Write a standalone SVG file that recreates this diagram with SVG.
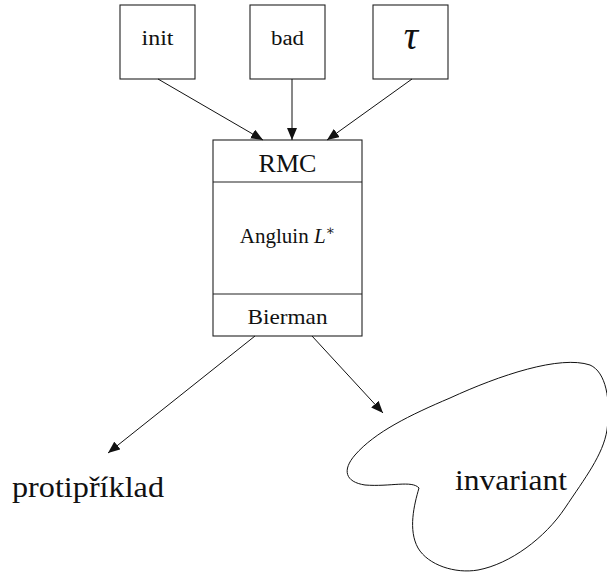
<svg xmlns="http://www.w3.org/2000/svg" width="607" height="572" viewBox="0 0 607 572">
  <style>
    .box { fill: #fff; stroke: #222; stroke-width: 1.1; }
    .div { stroke: #222; stroke-width: 1.1; }
    text { font-family: 'Liberation Serif', 'DejaVu Serif', serif; fill: #111; text-anchor: middle; }
    .edge { stroke: #111; stroke-width: 1; fill: none; marker-end: url(#arr); }
  </style>
  <defs>
    <marker id="arr" viewBox="0 0 12 10" refX="12" refY="5" markerWidth="12" markerHeight="10" markerUnits="userSpaceOnUse" orient="auto">
      <path d="M0,0 L12,5 L0,10 Z" fill="#111"/>
    </marker>
  </defs>

  <g id="init">
    <rect class="box" x="120" y="5" width="75" height="74"/>
    <text x="157.5" y="45" font-size="20" textLength="32" lengthAdjust="spacingAndGlyphs">init</text>
  </g>
  <g id="bad">
    <rect class="box" x="250" y="5" width="75" height="74"/>
    <text x="287.5" y="45" font-size="20" textLength="33" lengthAdjust="spacingAndGlyphs">bad</text>
  </g>
  <g id="tau">
    <rect class="box" x="373" y="5" width="75" height="74"/>
    <text x="411" y="49" font-size="40" font-style="italic">τ</text>
  </g>

  <g id="rmc">
    <rect class="box" x="213" y="140" width="149" height="196"/>
    <line class="div" x1="213" y1="182" x2="362" y2="182"/>
    <line class="div" x1="213" y1="294" x2="362" y2="294"/>
    <text x="287.5" y="172" font-size="25" textLength="58" lengthAdjust="spacingAndGlyphs">RMC</text>
    <text x="287.5" y="243" font-size="21">Angluin <tspan font-style="italic">L</tspan><tspan font-size="14" dy="-8">∗</tspan></text>
    <text x="287.5" y="324" font-size="21" textLength="80" lengthAdjust="spacingAndGlyphs">Bierman</text>
  </g>

  <g id="protipriklad">
    <text x="88" y="497" font-size="29" textLength="152" lengthAdjust="spacingAndGlyphs">protipříklad</text>
  </g>

  <g id="invariant">
    <path d="M 419,488 C 414,505 408,530 418,548 C 428,565 455,574 478,570 C 510,564 545,538 565,508 C 585,478 603,455 607,430 C 611,400 606,372 590,365 C 560,355 500,375 450,398 C 410,415 375,432 355,455 C 342,470 345,482 365,485 C 390,487 412,480 419,488 Z" fill="none" stroke="#111" stroke-width="1"/>
    <text x="511" y="490" font-size="29" textLength="112" lengthAdjust="spacingAndGlyphs">invariant</text>
  </g>

  <g id="connectors">
    <line class="edge" x1="158" y1="79" x2="263" y2="140"/>
    <line class="edge" x1="292" y1="79" x2="292" y2="140"/>
    <line class="edge" x1="412" y1="79" x2="327" y2="140"/>
    <line class="edge" x1="255" y1="336" x2="108" y2="453"/>
    <line class="edge" x1="312" y1="336" x2="383" y2="413"/>
  </g>
</svg>
